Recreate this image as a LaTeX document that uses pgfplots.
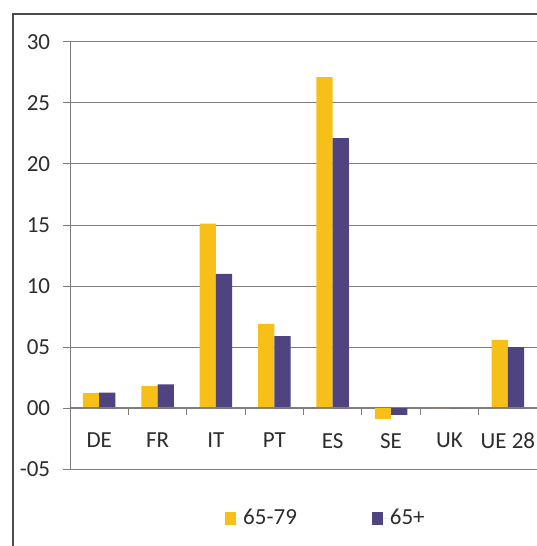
\documentclass[border=0pt]{standalone}
\usepackage{pgfplots}
\pgfplotsset{compat=1.18}
\usepackage{fontspec}
\setmainfont{Carlito}
\definecolor{cyel}{RGB}{246,192,24}
\definecolor{cpur}{RGB}{80,68,128}
\definecolor{cgrid}{RGB}{125,125,125}
\definecolor{ctext}{RGB}{45,45,45}
\begin{document}
\fontsize{23}{27}\selectfont
\color{ctext}
\begin{tikzpicture}
\useasboundingbox (0pt,0pt) rectangle (537pt,-546pt);
\draw[line width=1.3pt, color=black!70] (13pt,-560pt) -- (13pt,-14pt) -- (560pt,-14pt);
\begin{axis}[
  at={(70pt,-469.3pt)}, anchor=south west,
  scale only axis, width=467pt, height=427.6pt,
  xmin=0.5, xmax=8.5, ymin=-5, ymax=30,
  axis y line*=left, axis x line*=middle,
  hide obscured x ticks=false,
  axis line style={cgrid, line width=0.9pt},
  ymajorgrids=true,
  major grid style={cgrid, line width=0.9pt},
  ytick={-5,0,5,10,15,20,25,30},
  yticklabels={-05,00,05,10,15,20,25,30},
  yticklabel style={xshift=-5pt},
  ytick align=outside,
  major tick length=7pt,
  tick style={cgrid, line width=0.9pt},
  xtick={0.5,1.5,2.5,3.5,4.5,5.5,6.5,7.5},
  xticklabels={DE,FR,IT,PT,ES,SE,UK,UE 28},
  xticklabel style={xshift=29.2pt, yshift=-10pt},
  x tick style={draw=none},
  ybar=0pt, bar width=16.3pt,
  clip=false,
  legend style={at={(0.332,-0.114)}, anchor=west, draw=none, fill=none,
    inner sep=0pt, legend columns=2,
    /tikz/every even column/.append style={column sep=73pt}},
  legend image code/.code={\fill[#1,draw=none] (0pt,-6.5pt) rectangle (11pt,6.5pt); \path (0pt,0pt) -- (16pt,0pt);},
]
\addplot[fill=cyel, draw=none] coordinates {(1,1.23) (2,1.8) (3,15.1) (4,6.9) (5,27.1) (6,-0.87) (7,0) (8,5.6)};
\addplot[fill=cpur, draw=none] coordinates {(1,1.28) (2,1.95) (3,11.0) (4,5.9) (5,22.1) (6,-0.55) (7,0) (8,5.0)};
\legend{65-79,65+}
\end{axis}
% overlay axis providing the category boundary ticks on the zero line
\begin{axis}[
  at={(70pt,-407.7pt)}, anchor=south west,
  scale only axis, width=467pt, height=366.5pt,
  xmin=0.5, xmax=8.5, ymin=0, ymax=30,
  axis y line=none, axis x line*=bottom,
  axis line style={cgrid, line width=0.9pt},
  xtick={1.5,2.5,3.5,4.5,5.5,6.5,7.5},
  xticklabels={},
  xtick align=outside,
  major tick length=7pt,
  x tick style={draw=cgrid, line width=0.9pt},
]
\end{axis}
\end{tikzpicture}
\end{document}
